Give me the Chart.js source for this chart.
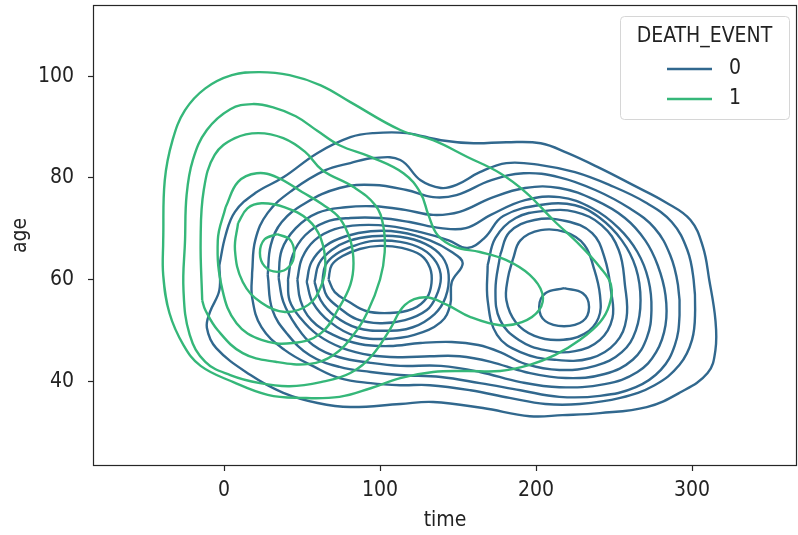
<!DOCTYPE html>
<html>
<head>
<meta charset="utf-8">
<script src="https://cdn.jsdelivr.net/npm/chart.js@4.4.1/dist/chart.umd.min.js"></script>
<style>
    html, body { margin: 0; padding: 0; background: #fff; }
</style>
</head>
<body>
<canvas id="kdeChart" width="798" height="535"></canvas>
<script>
// Axis setup
var timeRange = [-84, 367.3];
var ageRange = [23.3, 114];
var timeTicks = [0, 100, 200, 300];
var ageTicks = [40, 60, 80, 100];
var hueLabels = ['0', '1'];

// DEATH_EVENT = 1 contours (green), outer -> inner
var g1Time = [-39, -38, -33, -25, -12, 5, 23, 42, 62, 81, 113, 134, 156, 177, 194, 211, 228, 241, 248, 247, 241, 228, 212, 196, 177, 155, 134, 113, 94, 74, 49, 28, 6, -15, -26, -35, -39];
var g1Age = [67.7, 79.5, 87.4, 93.3, 97.6, 100.2, 100.8, 100.2, 98.2, 94.9, 89.4, 87.4, 84.1, 80.9, 77.0, 71.7, 66.8, 62.4, 59.0, 55.0, 51.6, 48.1, 45.1, 43.2, 42.0, 42.0, 41.8, 40.6, 38.6, 36.9, 36.7, 37.3, 39.8, 43.0, 47.1, 53.4, 60.9];

var g2Time = [-25, -24, -20, -11, 4, 18, 31, 46, 60, 74, 94, 115, 126, 131, 137, 148, 164, 181, 196, 204, 202, 191, 177, 158, 143, 129, 116, 106, 95, 81, 62, 42, 23, 4, -12, -22, -26];
var g2Age = [67.7, 76.6, 83.5, 89.4, 93.5, 94.5, 93.9, 92.1, 89.2, 86.4, 84.1, 80.9, 77.0, 72.7, 68.7, 66.4, 65.4, 63.8, 60.9, 57.3, 54.0, 51.6, 51.0, 52.6, 55.0, 56.5, 55.0, 50.0, 45.1, 41.6, 39.8, 39.0, 39.6, 41.2, 43.8, 49.1, 57.9];

var g3Time = [-14, -15, -13, -6, 7, 22, 38, 52, 63, 83, 97, 102, 103, 100, 92, 83, 70, 55, 33, 12, -4, -12];
var g3Age = [55.9, 67.7, 77.6, 84.5, 87.8, 88.8, 87.8, 85.1, 81.5, 78.2, 74.6, 70.7, 65.4, 60.0, 53.6, 49.1, 45.1, 43.4, 43.8, 45.5, 50.0, 54.0];

var g4Time = [1, 9, 21, 34, 50, 63, 74, 81, 83, 81, 74, 62, 44, 24, 8, -1, -4];
var g4Age = [74.2, 79.2, 80.9, 80.1, 77.2, 74.8, 72.1, 67.7, 63.2, 59.0, 54.6, 49.4, 47.5, 48.1, 51.4, 57.9, 67.7];

var g5Time = [9, 15, 24, 39, 54, 62, 65, 62, 54, 39, 24, 12, 7];
var g5Age = [71.1, 74.0, 75.0, 74.2, 71.7, 68.1, 62.8, 58.5, 55.0, 53.6, 55.4, 59.5, 65.8];

var g6Time = [34, 42, 45, 42, 34, 26, 23, 26];
var g6Age = [68.9, 67.9, 65.2, 62.6, 61.5, 62.6, 65.2, 67.9];

// DEATH_EVENT = 0 contours (blue); levels 1-6 wrap both peaks
var b1Time = [-3, 1, 7, 20, 38, 60, 81, 96, 117, 139, 160, 181, 203, 220, 241, 262, 283, 299, 307, 311, 315, 315, 310, 292, 271, 241, 217, 196, 166, 134, 113, 81, 60, 38, 17, -5, -11, -9, -3];
var b1Age = [62.8, 68.7, 73.3, 77.0, 80.1, 84.9, 88.0, 88.8, 88.8, 87.4, 86.8, 87.0, 86.8, 84.9, 81.9, 78.6, 75.2, 71.7, 66.4, 60.0, 52.0, 46.1, 41.6, 37.7, 34.9, 33.7, 33.3, 33.1, 34.7, 35.9, 35.5, 34.9, 35.7, 37.7, 41.2, 46.5, 50.5, 53.6, 57.9];

var b2Time = [18, 20, 28, 44, 65, 81, 96, 113, 126, 139, 149, 164, 181, 203, 225, 247, 270, 287, 297, 301, 302, 300, 292, 276, 254, 228, 206, 183, 158, 132, 113, 94, 74, 58, 39, 24, 18];
var b2Age = [61.3, 67.7, 73.1, 77.6, 81.5, 82.9, 83.9, 83.5, 79.5, 78.0, 78.6, 81.1, 82.9, 82.5, 81.1, 78.6, 75.2, 71.3, 65.8, 60.0, 54.0, 48.1, 43.2, 39.2, 36.7, 35.5, 35.5, 36.7, 38.2, 39.2, 39.2, 39.6, 40.6, 42.8, 46.1, 50.6, 56.5];

var b3Time = [28, 30, 37, 52, 74, 96, 117, 134, 149, 171, 192, 215, 238, 260, 276, 286, 291, 292, 289, 280, 264, 241, 215, 190, 164, 139, 113, 94, 74, 55, 41, 31];
var b3Age = [60.9, 66.8, 71.3, 75.0, 78.0, 78.6, 77.6, 76.2, 76.6, 79.5, 80.9, 80.1, 77.6, 74.0, 70.1, 64.8, 58.9, 53.0, 47.1, 42.2, 38.8, 37.1, 36.9, 38.2, 39.6, 40.8, 41.2, 41.8, 42.8, 45.1, 49.1, 54.0];

var b4Time = [35, 37, 46, 60, 78, 96, 116, 134, 151, 171, 193, 215, 238, 257, 270, 278, 283, 283, 277, 265, 244, 215, 190, 164, 139, 113, 94, 74, 57, 46, 38];
var b4Age = [60.3, 65.8, 70.1, 73.1, 74.2, 74.4, 73.7, 72.7, 73.3, 76.0, 78.0, 78.0, 75.6, 72.1, 67.7, 62.8, 56.9, 51.0, 45.7, 41.8, 39.4, 38.8, 39.8, 41.8, 43.0, 43.0, 43.6, 44.7, 47.1, 51.0, 55.6];

var b5Time = [41, 44, 52, 65, 81, 100, 119, 139, 155, 171, 193, 215, 236, 253, 265, 272, 274, 271, 262, 244, 219, 193, 171, 151, 132, 113, 94, 76, 60, 49, 42];
var b5Age = [60.0, 64.8, 68.7, 71.3, 72.1, 72.1, 71.3, 70.1, 70.1, 72.7, 75.6, 76.2, 74.0, 70.1, 65.4, 60.0, 54.0, 48.5, 44.2, 41.4, 40.6, 41.8, 43.8, 44.9, 44.9, 44.7, 45.1, 46.5, 49.1, 52.4, 55.9];

var b6Time = [47, 50, 58, 71, 87, 106, 126, 144, 156, 167, 179, 206, 225, 241, 255, 264, 267, 264, 255, 238, 215, 193, 177, 163, 146, 126, 106, 87, 70, 56, 49];
var b6Age = [60.0, 64.2, 67.7, 69.9, 70.7, 70.5, 69.3, 67.7, 66.2, 68.2, 72.5, 74.8, 74.6, 72.1, 67.7, 62.3, 55.9, 50.0, 45.7, 43.0, 42.2, 43.4, 45.7, 47.1, 47.7, 47.5, 46.9, 47.3, 49.1, 52.0, 55.9];

// levels 7-10 around the left peak (time ~100)
var b7aTime = [53, 56, 65, 78, 94, 113, 132, 146, 153, 146, 145, 139, 122, 103, 84, 68, 57];
var b7aAge = [59.5, 63.4, 66.6, 68.5, 69.5, 69.3, 67.7, 65.4, 63.2, 59.5, 55.0, 51.6, 49.1, 48.3, 48.9, 51.6, 55.4];
var b8aTime = [58, 61, 69, 80, 95, 113, 129, 140, 144, 142, 135, 121, 103, 85, 71, 62];
var b8aAge = [59.5, 63.2, 65.8, 67.6, 68.5, 68.4, 67.0, 64.4, 60.9, 56.5, 53.2, 50.6, 49.9, 50.5, 52.8, 55.9];
var b9aTime = [63, 65, 72, 83, 96, 113, 127, 136, 139, 136, 130, 116, 100, 85, 74, 66];
var b9aAge = [59.5, 62.8, 65.0, 66.6, 67.6, 67.4, 66.0, 63.4, 60.3, 56.7, 54.0, 52.0, 51.4, 52.2, 54.4, 56.7];
var b10aTime = [67, 69, 76, 87, 100, 114, 126, 132, 133, 130, 121, 106, 91, 80, 71];
var b10aAge = [60.0, 62.8, 64.6, 66.0, 66.6, 66.2, 64.8, 62.3, 59.3, 56.4, 54.2, 53.4, 53.8, 55.6, 57.5];

// levels 7-10 around the right peak (time ~215)
var b7bTime = [169, 174, 187, 206, 225, 242, 253, 257, 258, 251, 235, 212, 190, 175, 169];
var b7bAge = [62.8, 68.2, 72.1, 73.5, 73.3, 70.7, 65.8, 58.9, 52.4, 47.5, 44.5, 44.2, 45.7, 49.1, 55.9];
var b8bTime = [177, 183, 199, 219, 236, 244, 248, 249, 241, 225, 206, 189, 177, 174];
var b8bAge = [64.8, 69.3, 71.7, 71.5, 69.1, 64.2, 57.9, 52.4, 48.1, 45.9, 46.1, 48.1, 52.0, 57.9];
var b9bTime = [185, 190, 203, 219, 231, 237, 241, 240, 231, 215, 199, 187, 181, 182];
var b9bAge = [63.8, 67.7, 69.7, 69.3, 66.8, 62.3, 56.9, 52.4, 49.3, 48.1, 48.9, 51.6, 55.9, 60.3];
var b10bTime = [218, 230, 234, 230, 218, 206, 202, 206];
var b10bAge = [58.3, 57.3, 54.6, 51.8, 50.8, 51.8, 54.6, 57.3];

var blueColor = '#31688e';
var greenColor = '#35b779';

var greenLevels = [
    [g1Time, g1Age], [g2Time, g2Age], [g3Time, g3Age],
    [g4Time, g4Age], [g5Time, g5Age], [g6Time, g6Age]
];
var blueLevels = [
    [b1Time, b1Age], [b2Time, b2Age], [b3Time, b3Age], [b4Time, b4Age],
    [b5Time, b5Age], [b6Time, b6Age],
    [b7aTime, b7aAge], [b8aTime, b8aAge], [b9aTime, b9aAge], [b10aTime, b10aAge],
    [b7bTime, b7bAge], [b8bTime, b8bAge], [b9bTime, b9bAge], [b10bTime, b10bAge]
];

// turn a time/age pair of lists into a closed ring of points
function toRing(times, ages) {
    var pts = times.map(function (t, i) { return { x: t, y: ages[i] }; });
    pts.push(pts[0]);
    return pts;
}

function makeDataset(level, color, hue) {
    return {
        label: hue,
        data: toRing(level[0], level[1]),
        showLine: true,
        fill: false,
        borderColor: color,
        borderWidth: 2.4,
        pointRadius: 0,
        tension: 0.4
    };
}

var datasets = [];
// green first so it sits on top
greenLevels.forEach(function (lvl) { datasets.push(makeDataset(lvl, greenColor, hueLabels[1])); });
blueLevels.forEach(function (lvl) { datasets.push(makeDataset(lvl, blueColor, hueLabels[0])); });

var fontFamily = "'DejaVu Sans Condensed', 'DejaVu Sans', sans-serif";
var fontSize = 21;
Chart.defaults.font.family = fontFamily;
Chart.defaults.font.size = fontSize;
Chart.defaults.color = '#222';

// frame (all four spines) and the seaborn-style legend box
var frameAndLegend = {
    id: 'frameAndLegend',
    afterDraw: function (chart) {
        var ctx = chart.ctx;
        var area = chart.chartArea;
        ctx.save();
        ctx.strokeStyle = '#262626';
        ctx.lineWidth = 1.2;
        ctx.strokeRect(area.left + 0.5, area.top + 0.5, area.right - area.left - 1, area.bottom - area.top - 1);

        var boxW = 169, boxH = 103;
        var bx = area.right - 8 - boxW;
        var by = area.top + 11;
        ctx.beginPath();
        ctx.roundRect(bx + 0.5, by + 0.5, boxW, boxH, 4);
        ctx.fillStyle = 'rgba(255,255,255,0.8)';
        ctx.fill();
        ctx.strokeStyle = '#d6d6d6';
        ctx.lineWidth = 1;
        ctx.stroke();

        ctx.font = fontSize + 'px ' + fontFamily;
        ctx.fillStyle = '#222';
        ctx.textBaseline = 'middle';
        ctx.textAlign = 'center';
        ctx.fillText('DEATH_EVENT', bx + boxW / 2, by + 21);

        var colors = [blueColor, greenColor];
        hueLabels.forEach(function (lab, i) {
            var yy = by + 53 + i * 30;
            ctx.strokeStyle = colors[i];
            ctx.lineWidth = 2.4;
            ctx.beginPath();
            ctx.moveTo(bx + 47, yy);
            ctx.lineTo(bx + 92, yy);
            ctx.stroke();
            ctx.textAlign = 'left';
            ctx.fillStyle = '#222';
            ctx.fillText(lab, bx + 109, yy);
        });
        ctx.restore();
    }
};

var ctx = document.getElementById('kdeChart').getContext('2d');
var kdeChart = new Chart(ctx, {
    type: 'scatter',
    data: { datasets: datasets },
    options: {
        responsive: false,
        animation: false,
        devicePixelRatio: 1,
        layout: { padding: { top: 5, right: 1, left: 0, bottom: 0 } },
        plugins: {
            legend: { display: false },
            tooltip: { enabled: false }
        },
        scales: {
            x: {
                type: 'linear',
                min: timeRange[0],
                max: timeRange[1],
                afterFit: function (scale) {
                    scale.height = 69;
                    scale.paddingLeft = 0;
                    scale.paddingRight = 0;
                },
                afterBuildTicks: function (scale) {
                    scale.ticks = timeTicks.map(function (v) { return { value: v }; });
                },
                grid: { display: true, drawOnChartArea: false, drawTicks: true, tickLength: 5, tickColor: '#262626', tickWidth: 1.2 },
                border: { display: false },
                ticks: { padding: 7, maxRotation: 0, autoSkip: false, color: '#222' },
                title: { display: true, text: 'time', color: '#222', padding: { top: 0, bottom: 2 } }
            },
            y: {
                type: 'linear',
                min: ageRange[0],
                max: ageRange[1],
                afterFit: function (scale) {
                    scale.width = 93;
                    scale.paddingTop = 0;
                    scale.paddingBottom = 0;
                },
                afterBuildTicks: function (scale) {
                    scale.ticks = ageTicks.map(function (v) { return { value: v }; });
                },
                grid: { display: true, drawOnChartArea: false, drawTicks: true, tickLength: 5, tickColor: '#262626', tickWidth: 1.2 },
                border: { display: false },
                ticks: { padding: 14, autoSkip: false, color: '#222' },
                title: { display: true, text: 'age', color: '#222', padding: { top: 8, bottom: 0 } }
            }
        }
    },
    plugins: [frameAndLegend]
});
</script>
</body>
</html>
